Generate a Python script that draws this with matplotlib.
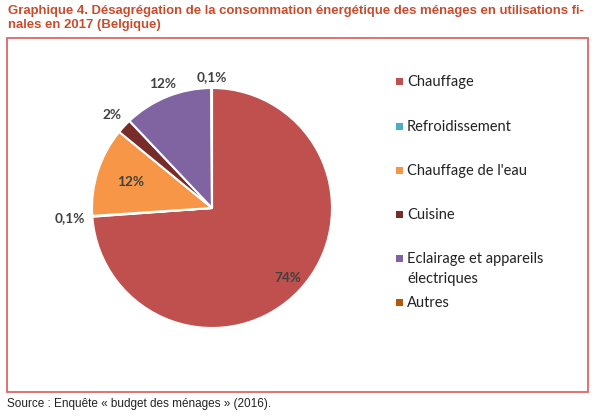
import matplotlib.pyplot as plt
from matplotlib.patches import Rectangle
import numpy as np

# ============================================================
# DONNÉES
# ============================================================

CATEGORIES = [
    "Chauffage",
    "Refroidissement",
    "Chauffage de l'eau",
    "Cuisine",
    "Eclairage et appareils\nélectriques",
    "Autres",
]
VALUES = [74, 0.1, 12, 2, 12, 0.1]
LABELS = ["74%", "0,1%", "12%", "2%", "12%", "0,1%"]
COLORS = ["#C0504D", "#4BACC6", "#F79646", "#772C2A", "#8064A2", "#B65708"]

# distance des étiquettes au centre (en rayons)
LABEL_DIST = [0.86, 1.19, 0.71, 1.14, 1.11, 1.09]

TITLE = ("Graphique 4. Désagrégation de la consommation énergétique des ménages en utilisations fi-\n"
         "nales en 2017 (Belgique)")
SOURCE = "Source : Enquête « budget des ménages » (2016)."

W, H = 611, 416

# ============================================================
# FIGURE
# ============================================================

fig = plt.figure(figsize=(W / 100, H / 100), dpi=100)


def px(x, y):
    # pixels (origine en haut à gauche) -> fraction de figure
    return x / W, 1 - y / H


# cadre rouge
x0, y0 = px(7, 392)
x1, y1 = px(588, 38)
fig.patches.append(Rectangle((x0, y0), x1 - x0, y1 - y0, transform=fig.transFigure,
                             fill=False, edgecolor="#E06464", linewidth=1.3))

fig.text(*px(8, 5), TITLE, ha="left", va="top", fontsize=9.45, fontweight="bold",
         color="#C84B2C", family="Liberation Sans", linespacing=1.25)
fig.text(*px(7, 404), SOURCE, ha="left", va="center", fontsize=8.5,
         color="#222222", family="Liberation Sans")

# camembert
cx, cy, r = 212, 208, 120
left, bottom = px(cx - r, cy + r)
ax = fig.add_axes([left, bottom, 2 * r / W, 2 * r / H])
wedges, _ = ax.pie(VALUES, colors=COLORS, startangle=90, counterclock=False,
                   wedgeprops=dict(edgecolor="white", linewidth=1.5))
ax.set_xlim(-1, 1)
ax.set_ylim(-1, 1)
ax.set_aspect("equal")
ax.axis("off")

for w, lab, d in zip(wedges, LABELS, LABEL_DIST):
    ang = np.deg2rad((w.theta1 + w.theta2) / 2)
    ax.text(d * np.cos(ang), d * np.sin(ang), lab, ha="center", va="center",
            fontsize=9.8, fontweight="bold", color="#404040", family="Lato",
            clip_on=False)

# légende
LEG_Y = [81, 126, 170, 214, 258, 302]
for cat, col, ly in zip(CATEGORIES, COLORS, LEG_Y):
    sx, sy = px(396, ly + 4)
    fig.patches.append(Rectangle((sx, sy), 7 / W, 7 / H, transform=fig.transFigure,
                                 facecolor=col, edgecolor="none"))
    fig.text(*px(407, ly - 6), cat, ha="left", va="top", fontsize=10.5,
             color="#222222", family="Lato", linespacing=1.55)

fig.savefig("out.png", dpi=100)
